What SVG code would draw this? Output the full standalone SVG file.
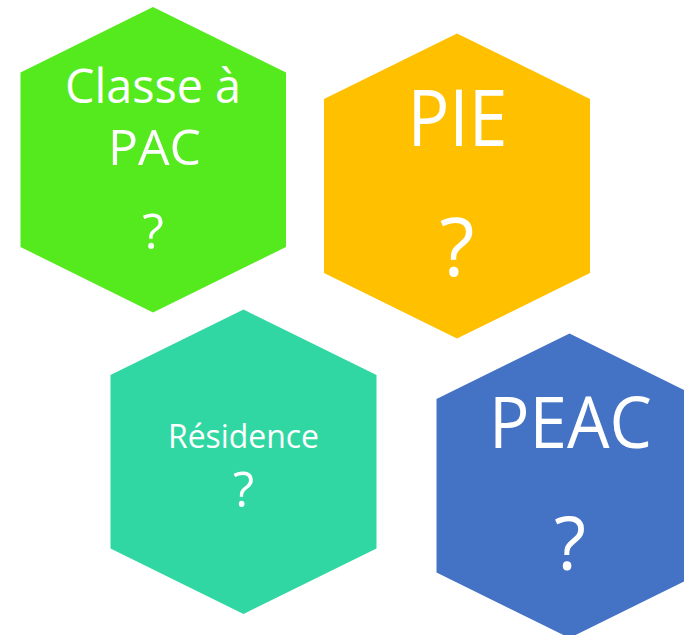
<svg xmlns="http://www.w3.org/2000/svg" width="684" height="635" viewBox="0 0 684 635">
<style>
text { font-family: "Open Sans", "Noto Sans", sans-serif; fill: #ffffff; text-anchor: middle; }
</style>
<rect width="684" height="635" fill="#ffffff"/>
<g id="classe-pac">
<polygon points="153,7 286,72.5 286,247 153,312.5 20.5,247 20.5,72.5" fill="#55EA1E"/>
<text x="153" y="102.5" font-size="47" textLength="176" lengthAdjust="spacingAndGlyphs">Classe à</text>
<text x="154.5" y="165" font-size="50">PAC</text>
<text x="153" y="249" font-size="50">?</text>
</g>
<g id="pie">
<polygon points="457,33.5 590,99 590,273 457,338.5 324,273 324,99" fill="#FFC000"/>
<text x="457.5" y="146" font-size="78" textLength="100" lengthAdjust="spacingAndGlyphs">PIE</text>
<text x="457" y="276" font-size="81">?</text>
</g>
<g id="residence">
<polygon points="243.5,309.5 376.5,375 376.5,548.5 243.5,614 110.5,548.5 110.5,375" fill="#31D7A2"/>
<text x="243.5" y="448.3" font-size="32" textLength="151" lengthAdjust="spacingAndGlyphs">Résidence</text>
<text x="243.5" y="506.7" font-size="49">?</text>
</g>
<g id="peac">
<polygon points="569.5,333.5 702.5,399 702.5,572.5 569.5,638 436.5,572.5 436.5,399" fill="#4472C4"/>
<text x="570.5" y="447.7" font-size="72" textLength="163" lengthAdjust="spacingAndGlyphs">PEAC</text>
<text x="570" y="570" font-size="74">?</text>
</g>
<g id="connectors"></g>
</svg>
